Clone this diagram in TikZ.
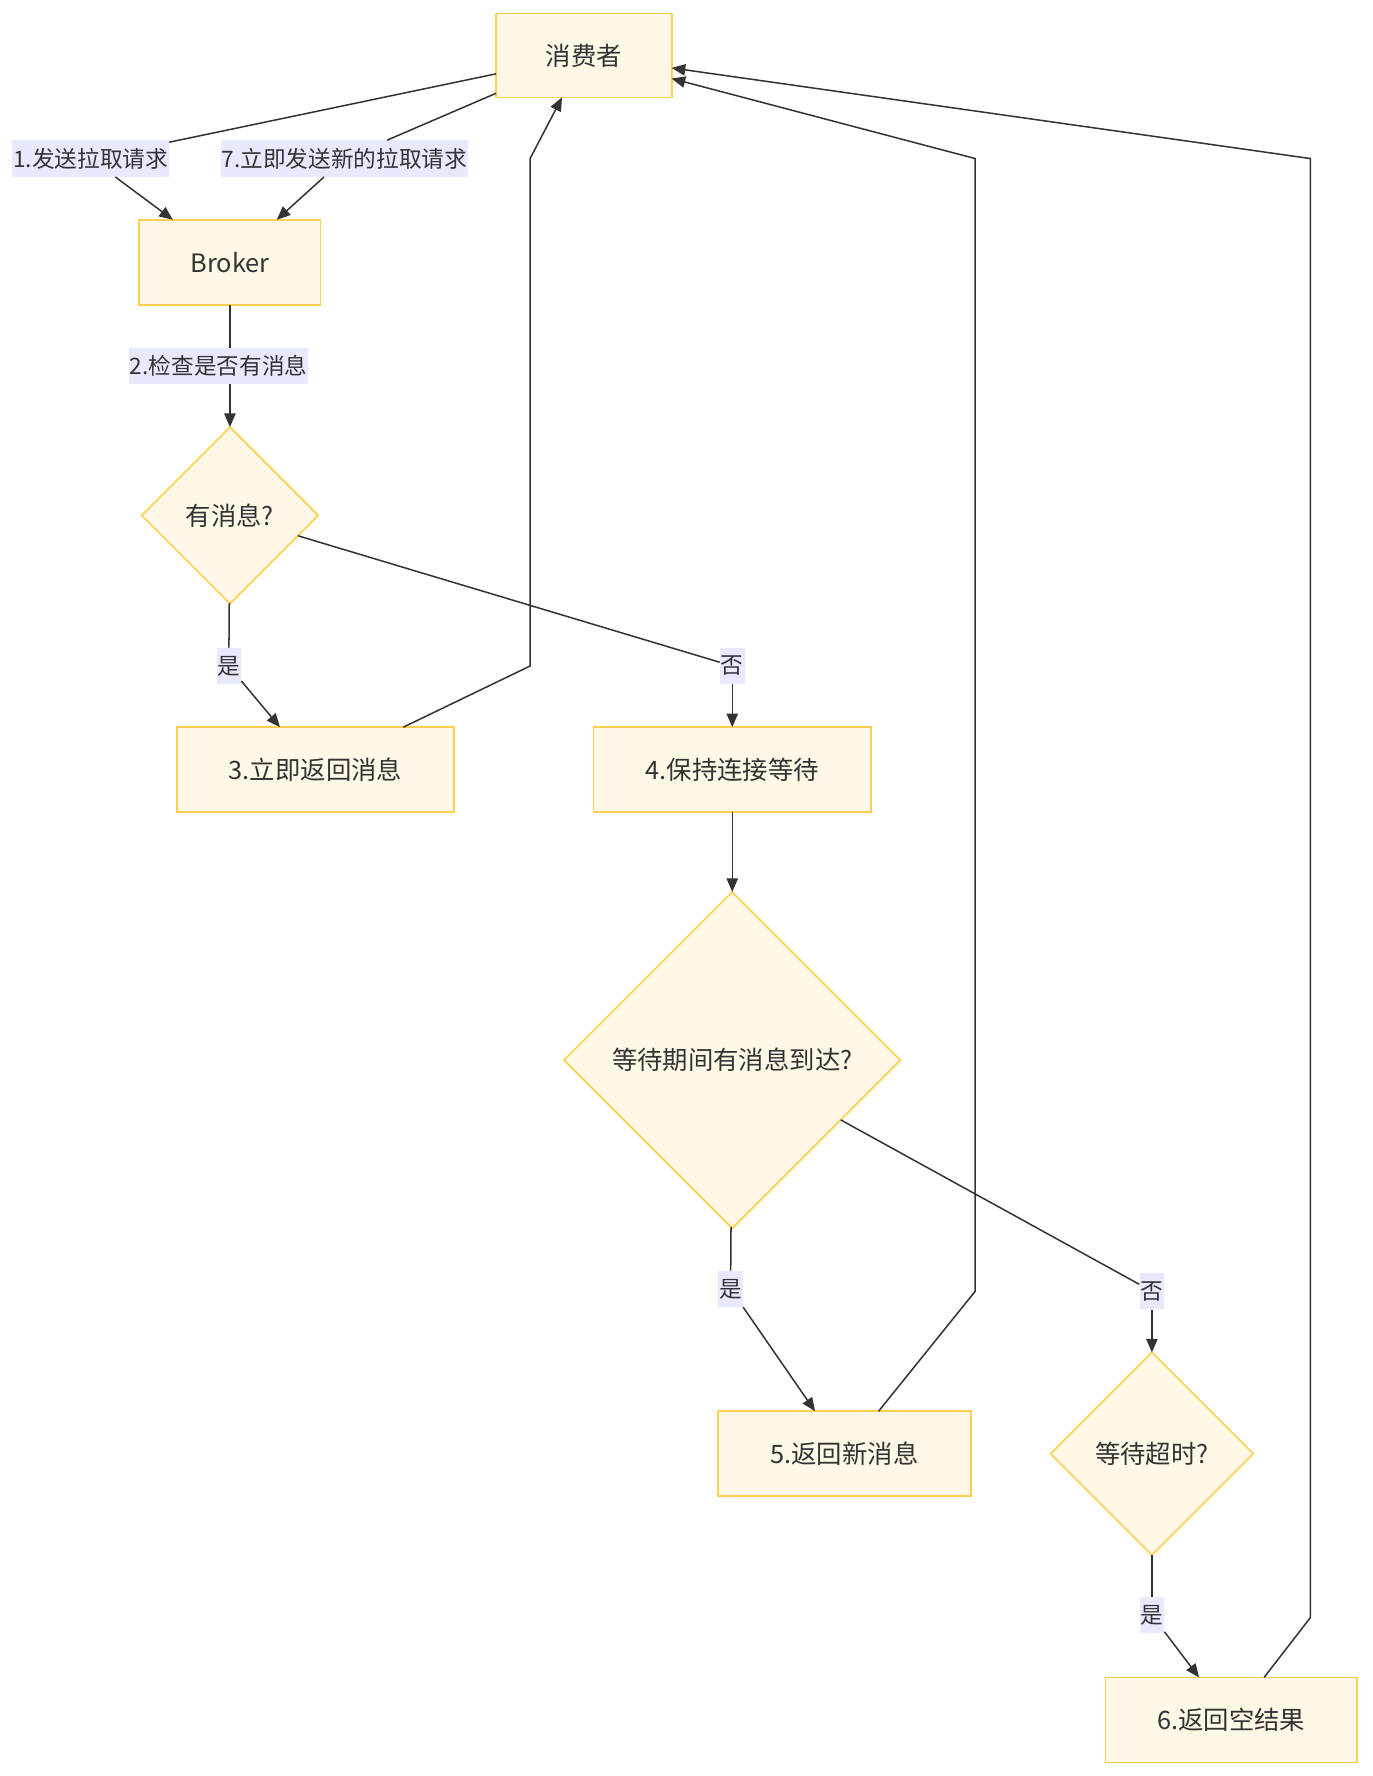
\documentclass[tikz,border=0pt]{standalone}
\usepackage{fontspec}
\setmainfont{Noto Sans CJK SC}
\usetikzlibrary{shapes.geometric,arrows.meta}
\definecolor{nodefill}{HTML}{FFF8E6}
\definecolor{nodeline}{HTML}{FFD04F}
\definecolor{labfill}{HTML}{E8E8FF}
\definecolor{ink}{HTML}{333333}
\tikzset{
  box/.style={draw=nodeline,fill=nodefill,line width=1.1pt,inner sep=0pt,outer sep=0pt,
    minimum height=56.25pt,text=ink,font=\fontsize{16.8}{20}\selectfont},
  dia/.style={diamond,draw=nodeline,fill=nodefill,line width=1.1pt,inner sep=0pt,outer sep=0pt,
    shape aspect=1,text=ink,font=\fontsize{16.8}{20}\selectfont},
  elab/.style={fill=labfill,inner xsep=0.6pt,inner ysep=0pt,minimum height=24pt,text=ink,
    font=\fontsize{15}{18}\selectfont},
  conn/.style={draw=ink,line width=1pt,-{Triangle[length=9pt,width=7.5pt]}},
  plainline/.style={draw=ink,line width=1pt},
}
\begin{document}
\begin{tikzpicture}[x=0.75pt,y=-0.75pt]
\useasboundingbox (0,0) rectangle (1212,1568);
% nodes
\node[box,minimum width=116.25pt,minimum height=55.5pt] (cons) at (515.5,49) {消费者};
\node[box,minimum width=120pt] (brk) at (203,231.5) {Broker};
\node[dia,minimum width=117pt,minimum height=117pt] (d1) at (203,455) {有消息?};
\node[box,minimum width=183.75pt] (r3) at (278.5,679.5) {3.立即返回消息};
\node[box,minimum width=183.75pt] (r4) at (646.5,679.5) {4.保持连接等待};
\node[dia,minimum width=222.75pt,minimum height=222.75pt] (d2) at (646.5,936) {等待期间有消息到达?};
\node[box,minimum width=167.25pt] (r5) at (745.5,1283.5) {5.返回新消息};
\node[dia,minimum width=134.25pt,minimum height=134.25pt] (d3) at (1017,1283.5) {等待超时?};
\node[box,minimum width=166.5pt] (r6) at (1087,1518.5) {6.返回空结果};
% edge labels
\node[elab] (l1) at (80,140) {1.发送拉取请求};
\node[elab] (l7) at (304,140) {7.立即发送新的拉取请求};
\node[elab] (ly1) at (202,588) {是};
\node[elab] (ln1) at (646.5,588) {否};
\node[elab] (ly2) at (645,1138) {是};
\node[elab] (ln2) at (1017,1140) {否};
\node[elab] (ly3) at (1017,1426) {是};
% waypoints
\coordinate (a1) at (468,588);
\coordinate (a2) at (468,140);
\coordinate (b1) at (861,1140);
\coordinate (b2) at (861,140);
\coordinate (c1) at (1157,1428);
\coordinate (c2) at (1157,140);
% connectors
\draw[plainline] (cons) -- (l1);
\draw[conn] (l1) -- (brk);
\draw[plainline] (cons) -- (l7);
\draw[conn] (l7) -- (brk);
\draw[conn] (brk) -- node[elab,xshift=-7.5pt] (l2) {2.检查是否有消息} (d1);
\draw[plainline] (d1) -- (ly1);
\draw[conn] (ly1) -- (r3);
\draw[plainline] (d1) -- (ln1);
\draw[conn] (ln1) -- (r4);
\draw[conn] (r3) -- (a1) -- (a2) -- (cons);
\draw[conn] (r4) -- (d2);
\draw[plainline] (d2) -- (ly2);
\draw[conn] (ly2) -- (r5);
\draw[plainline] (d2) -- (ln2);
\draw[conn] (ln2) -- (d3);
\draw[conn] (r5) -- (b1) -- (b2) -- (cons);
\draw[plainline] (d3) -- (ly3);
\draw[conn] (ly3) -- (r6);
\draw[conn] (r6) -- (c1) -- (c2) -- (cons);
\end{tikzpicture}
\end{document}
